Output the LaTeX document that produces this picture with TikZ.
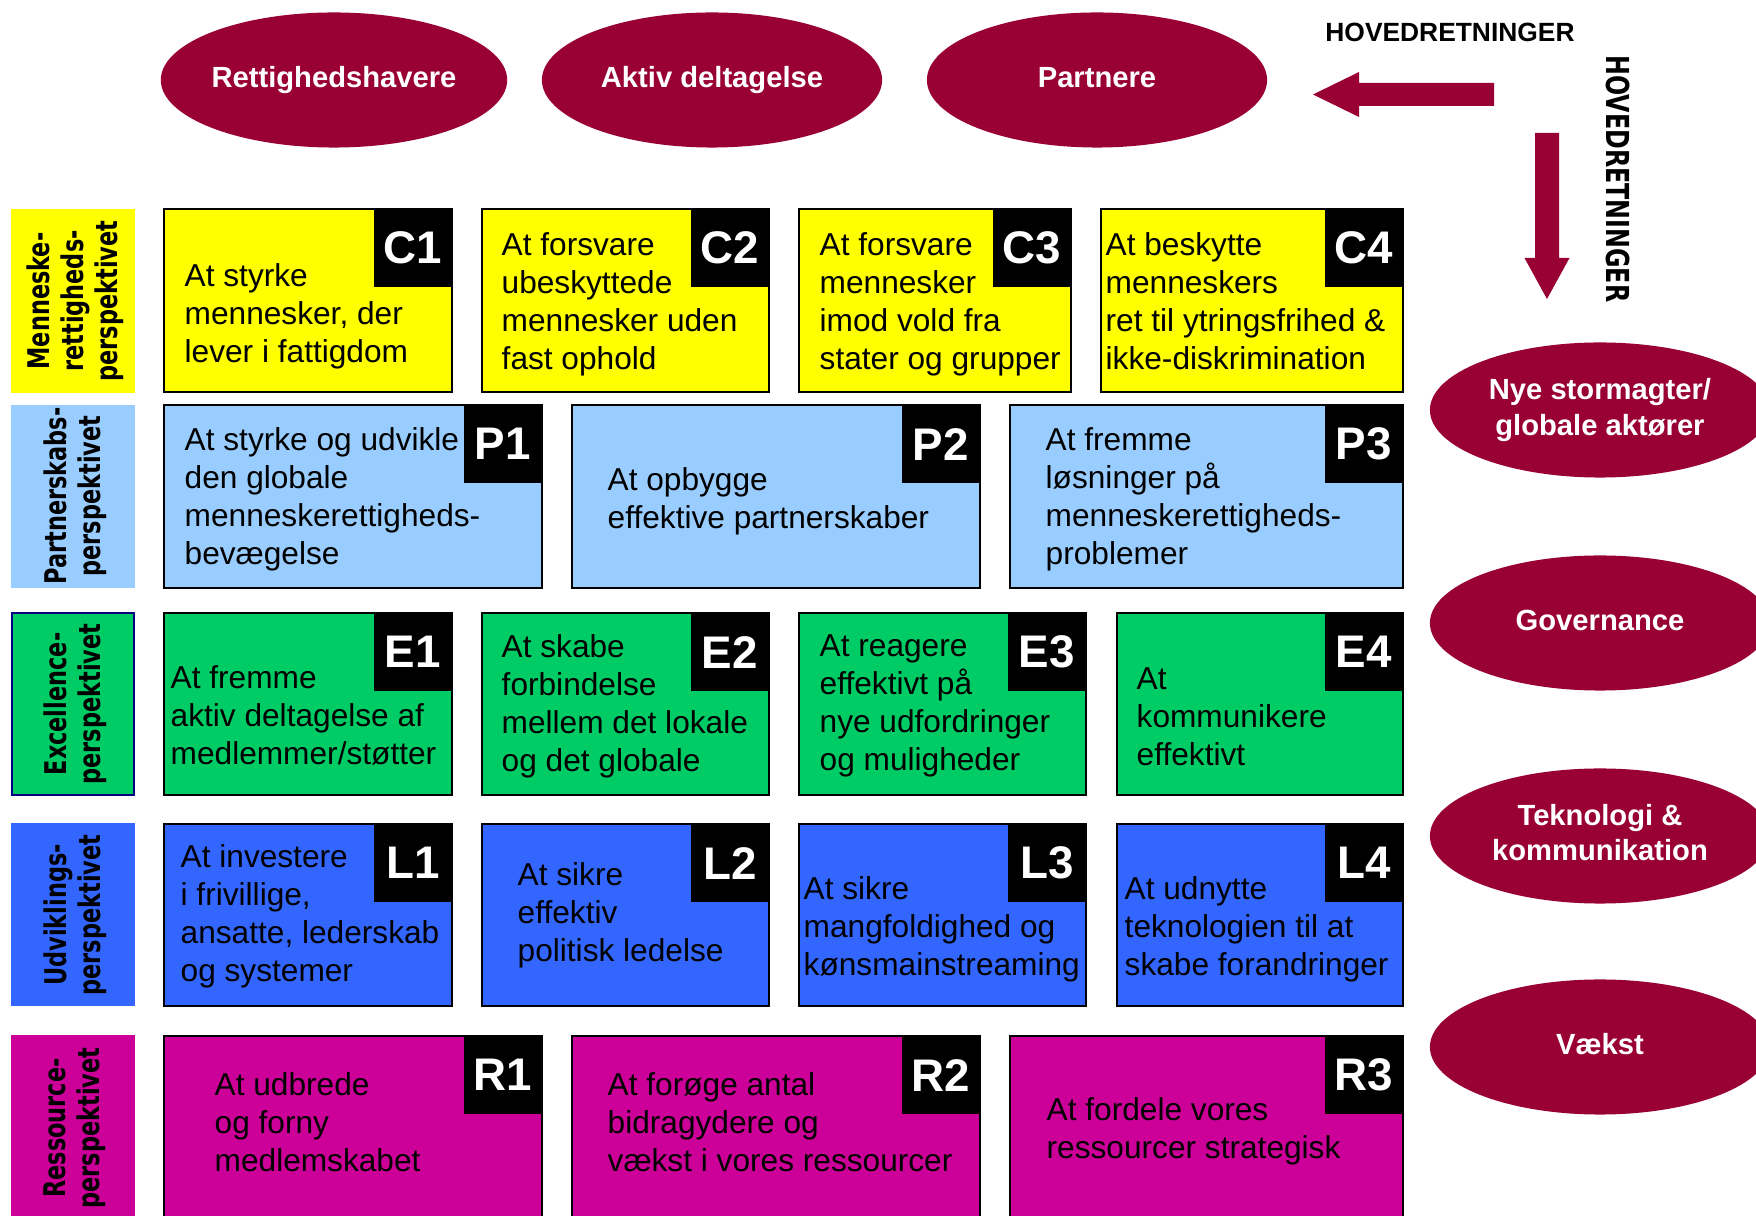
\documentclass[tikz,border=0pt]{standalone}
\usepackage{fontspec}
\setmainfont{Liberation Sans}
\newfontfamily\perspfont[FakeStretch=0.75]{DejaVu Sans}
\usepackage{tikz}
\usetikzlibrary{calc}
\usetikzlibrary{shapes.geometric}

\definecolor{vinrod}{HTML}{990033}
\definecolor{gul}{HTML}{FFFF00}
\definecolor{lysbla}{HTML}{99CCFF}
\definecolor{gron}{HTML}{00CC66}
\definecolor{bla}{HTML}{3366FF}
\definecolor{lilla}{HTML}{CC0099}
\definecolor{marine}{HTML}{000080}

\begin{document}
\begin{tikzpicture}[x = 0.01cm, y = -0.01cm,
	felt/.style = {draw = black, line width = 0.75pt},
	tag/.style = {fill = black, text = white, anchor = north east, inner sep = 0pt,
		minimum width = 0.77cm, minimum height = 0.77cm,
		font = \fontsize{13}{13}\selectfont\bfseries},
	tekst/.style = {anchor = north west, inner sep = 0pt, align = left,
		font = \fontsize{9}{10.8}\selectfont},
	retning/.style = {ellipse, fill = vinrod, text = white, inner sep = 0pt,
		minimum width = 3.4cm, minimum height = 1.35cm, align = center,
		font = \fontsize{8.3}{10}\selectfont\bfseries},
	persp/.style = {rotate = 90, inner sep = 0pt, align = center,
		font = \perspfont\fontsize{8.5}{9.7}\selectfont\bfseries}]
				\useasboundingbox (0, 0) rectangle (1756, 1216);

				% hovedretninger
				\node[retning] (rettig) at (334, 80) {\strut Rettighedshavere};
				\node[retning] (aktiv) at (712, 80) {\strut Aktiv deltagelse};
				\node[retning] (partner) at (1097, 80) {\strut Partnere};
				\node[retning] (nye) at (1600, 410) {Nye stormagter/\\globale aktører};
				\node[retning] (gov) at (1600, 623) {\strut Governance};
				\node[retning] (tek) at (1600, 836) {\strut Teknologi \&\\kommunikation\strut};
				\node[retning] (vaekst) at (1600, 1047) {\strut Vækst};

				\node[font = \fontsize{7.5}{7.5}\selectfont\bfseries] (hovedv) at (1450, 32) {HOVEDRETNINGER};
				\node[rotate = -90, font = \perspfont\fontsize{9}{9}\selectfont\bfseries] (hovedl) at (1618, 179) {HOVEDRETNINGER};

				\coordinate[](pv) at (1494, 94.5);
				\coordinate[](pn) at (1547, 133);
				\fill[vinrod] (pv)--($(pv)+(0, -11.5)$)--($(pv)+(-135, -11.5)$)--($(pv)+(-135, -22.5)$)
					--($(pv)+(-181, 0)$)--($(pv)+(-135, 22.5)$)--($(pv)+(-135, 11.5)$)--($(pv)+(0, 11.5)$)--cycle;
				\fill[vinrod] (pn)--($(pn)+(-12, 0)$)--($(pn)+(-12, 125)$)--($(pn)+(-22.5, 125)$)
					--($(pn)+(0, 166)$)--($(pn)+(22.5, 125)$)--($(pn)+(12, 125)$)--($(pn)+(12, 0)$)--cycle;

				% perspektiver
				\fill[gul] (11, 209) rectangle (135, 393);
				\node[persp] (mr) at (75, 301) {Menneske-\\rettigheds-\\perspektivet};
				\fill[lysbla] (11, 405) rectangle (135, 588);
				\node[persp] (ps) at (75, 496) {Partnerskabs-\\perspektivet};
				\filldraw[fill = gron, draw = marine, line width = 0.6pt] (12, 613) rectangle (134, 795);
				\node[persp] (ex) at (75, 704) {Excellence-\\perspektivet};
				\fill[bla] (11, 823) rectangle (135, 1006);
				\node[persp] (ud) at (75, 915) {Udviklings-\\perspektivet};
				\fill[lilla] (11, 1035) rectangle (135, 1240);
				\node[persp] (rs) at (75, 1128) {Ressource-\\perspektivet};

				% C
				\filldraw[felt, fill = gul] (164, 209) rectangle (452, 392);
				\filldraw[felt, fill = gul] (482, 209) rectangle (769, 392);
				\filldraw[felt, fill = gul] (799, 209) rectangle (1071, 392);
				\filldraw[felt, fill = gul] (1101, 209) rectangle (1403, 392);
				\node[tag] (c1) at (452, 209) {C1};
				\node[tag] (c2) at (769, 209) {C2};
				\node[tag] (c3) at (1071, 209) {C3};
				\node[tag] (c4) at (1403, 209) {C4};
				\node[tekst] (c1t) at (184, 263) {At styrke\\mennesker, der\\lever i fattigdom};
				\node[tekst] (c2t) at (501, 232) {At forsvare\\ubeskyttede\\mennesker uden\\fast ophold};
				\node[tekst] (c3t) at (819, 232) {At forsvare\\mennesker\\imod vold fra\\stater og grupper};
				\node[tekst] (c4t) at (1105, 232) {At beskytte\\menneskers\\ret til ytringsfrihed \&\\ikke-diskrimination};

				% P
				\filldraw[felt, fill = lysbla] (164, 405) rectangle (542, 588);
				\filldraw[felt, fill = lysbla] (572, 405) rectangle (980, 588);
				\filldraw[felt, fill = lysbla] (1010, 405) rectangle (1403, 588);
				\node[tag] (p1) at (542, 405) {P1};
				\node[tag] (p2) at (980, 405) {P2};
				\node[tag] (p3) at (1403, 405) {P3};
				\node[tekst] (p1t) at (184, 427) {At styrke og udvikle\\den globale\\menneskerettigheds-\\bevægelse};
				\node[tekst] (p2t) at (607, 467) {At opbygge\\effektive partnerskaber};
				\node[tekst] (p3t) at (1045, 427) {At fremme\\løsninger på\\menneskerettigheds-\\problemer};

				% E
				\filldraw[felt, fill = gron] (164, 613) rectangle (452, 795);
				\filldraw[felt, fill = gron] (482, 613) rectangle (769, 795);
				\filldraw[felt, fill = gron] (799, 613) rectangle (1086, 795);
				\filldraw[felt, fill = gron] (1117, 613) rectangle (1403, 795);
				\node[tag] (e1) at (452, 613) {E1};
				\node[tag] (e2) at (769, 613) {E2};
				\node[tag] (e3) at (1086, 613) {E3};
				\node[tag] (e4) at (1403, 613) {E4};
				\node[tekst] (e1t) at (170, 665) {At fremme\\aktiv deltagelse af\\medlemmer/støtter};
				\node[tekst] (e2t) at (501, 634) {At skabe\\forbindelse\\mellem det lokale\\og det globale};
				\node[tekst] (e3t) at (819, 634) {At reagere\\effektivt på\\nye udfordringer\\og muligheder};
				\node[tekst] (e4t) at (1136, 667) {At\\kommunikere\\effektivt};

				% L
				\filldraw[felt, fill = bla] (164, 824) rectangle (452, 1006);
				\filldraw[felt, fill = bla] (482, 824) rectangle (769, 1006);
				\filldraw[felt, fill = bla] (799, 824) rectangle (1086, 1006);
				\filldraw[felt, fill = bla] (1117, 824) rectangle (1403, 1006);
				\node[tag] (l1) at (452, 824) {L1};
				\node[tag] (l2) at (769, 824) {L2};
				\node[tag] (l3) at (1086, 824) {L3};
				\node[tag] (l4) at (1403, 824) {L4};
				\node[tekst] (l1t) at (180, 844) {At investere\\i frivillige,\\ansatte, lederskab\\og systemer};
				\node[tekst] (l2t) at (517, 862) {At sikre\\effektiv\\politisk ledelse};
				\node[tekst] (l3t) at (803, 876) {At sikre\\mangfoldighed og\\kønsmainstreaming};
				\node[tekst] (l4t) at (1124, 876) {At udnytte\\teknologien til at\\skabe forandringer};

				% R
				\filldraw[felt, fill = lilla] (164, 1036) rectangle (542, 1250);
				\filldraw[felt, fill = lilla] (572, 1036) rectangle (980, 1250);
				\filldraw[felt, fill = lilla] (1010, 1036) rectangle (1403, 1250);
				\node[tag] (r1) at (542, 1036) {R1};
				\node[tag] (r2) at (980, 1036) {R2};
				\node[tag] (r3) at (1403, 1036) {R3};
				\node[tekst] (r1t) at (214, 1072) {At udbrede\\og forny\\medlemskabet};
				\node[tekst] (r2t) at (607, 1072) {At forøge antal\\bidragydere og\\vækst i vores ressourcer};
				\node[tekst] (r3t) at (1046, 1097) {At fordele vores\\ressourcer strategisk};
			\end{tikzpicture}
\end{document}
